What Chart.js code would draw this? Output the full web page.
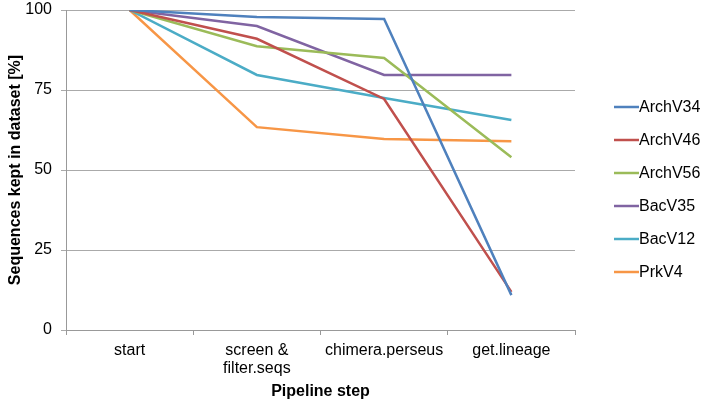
<!DOCTYPE html>
<html><head><meta charset="utf-8">
<script src="https://cdn.jsdelivr.net/npm/chart.js@4/dist/chart.umd.min.js"></script>
<style>html,body{margin:0;padding:0;background:#fff}#wrap{width:708px;height:403px}</style>
</head><body><div id="wrap"><canvas id="c" width="708" height="403"></canvas></div>
<script>
const categories = [["start"], ["screen &", "filter.seqs"], ["chimera.perseus"], ["get.lineage"]];
const seriesNames = ["ArchV34", "ArchV46", "ArchV56", "BacV35", "BacV12", "PrkV4"];
const archV34 = [100, 97.8, 97.2, 10.9];
const archV46 = [100, 91.0, 72.2, 11.9];
const archV56 = [100, 88.7, 85.0, 54.0];
const bacV35 = [100, 95.0, 79.7, 79.7];
const bacV12 = [100, 79.7, 72.5, 65.6];
const prkV4 = [100, 63.4, 59.7, 59.0];
const yTicks = [0, 25, 50, 75, 100];
const colors = ["#4F81BD", "#C0504D", "#9BBB59", "#8064A2", "#4BACC6", "#F79646"];
const values = [archV34, archV46, archV56, bacV35, bacV12, prkV4];

const FONT = "'Liberation Sans', Arial, sans-serif";

const legendPlugin = {
  id: 'customLegend',
  afterDraw(chart) {
    const ctx = chart.ctx;
    ctx.save();
    ctx.font = "16px " + FONT;
    ctx.textBaseline = 'middle';
    chart.data.datasets.forEach((ds, i) => {
      const y = 107 + i * 33;
      ctx.strokeStyle = ds.borderColor;
      ctx.lineWidth = 2.5;
      ctx.beginPath(); ctx.moveTo(614, y); ctx.lineTo(639, y); ctx.stroke();
      ctx.fillStyle = '#000';
      ctx.fillText(ds.label, 639, y + 1);
    });
    ctx.restore();
  }
};

new Chart(document.getElementById('c'), {
  type: 'line',
  data: {
    labels: categories,
    datasets: seriesNames.map((n, i) => ({
      label: n, data: values[i], borderColor: colors[i], backgroundColor: colors[i],
      borderWidth: 2.5, pointRadius: 0, tension: 0, fill: false
    }))
  },
  options: {
    responsive: false, animation: false,
    layout: { padding: { top: 10, right: 133, left: 6, bottom: 2 } },
    plugins: { legend: { display: false }, tooltip: { enabled: false } },
    scales: {
      x: {
        offset: true,
        afterFit(scale) { scale.height = 71; scale.paddingLeft = 0; scale.paddingRight = 0; },
        grid: { offset: true, drawOnChartArea: false, color: '#999', tickLength: 5 },
        border: { color: '#999' },
        ticks: { color: '#000', font: { family: FONT, size: 16, lineHeight: 1.15 }, padding: 6, maxRotation: 0, autoSkip: false },
        title: { display: true, text: 'Pipeline step', color: '#000', font: { family: FONT, size: 16, weight: 'bold' }, padding: { top: 1, bottom: 0 } }
      },
      y: {
        min: 0, max: 100,
        afterFit(scale) { scale.width = 60; scale.paddingTop = 0; scale.paddingBottom = 0; },
        afterBuildTicks(scale) { scale.ticks = yTicks.map(v => ({ value: v })); },
        grid: { color: '#aaa', tickLength: 5 },
        border: { color: '#999' },
        ticks: { color: '#000', font: { family: FONT, size: 16 }, padding: 9 },
        title: { display: true, text: 'Sequences kept in dataset [%]', color: '#000', font: { family: FONT, size: 16, weight: 'bold' }, padding: { top: 0, bottom: 0 } }
      }
    }
  },
  plugins: [legendPlugin]
});
</script></body></html>
